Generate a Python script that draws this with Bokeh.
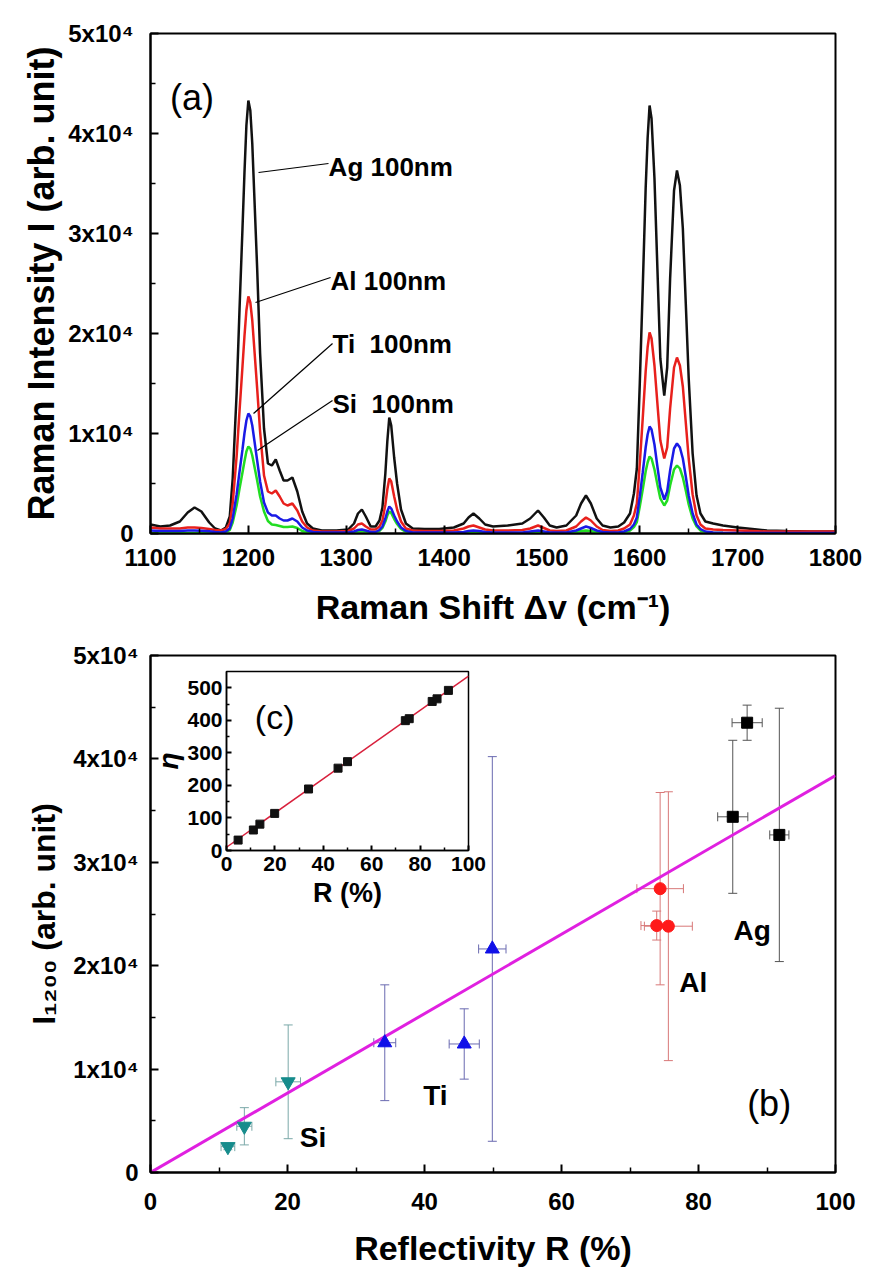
from bokeh.plotting import figure
from bokeh.models import Range1d, FixedTicker, Label, ColumnDataSource, Whisker, TeeHead, GridBox, Column
from bokeh.embed import file_html
from bokeh.resources import INLINE

FONT = "Liberation Sans"

# ---------------- (a) Raman spectra ----------------
shift = [1100, 1110, 1120, 1130, 1138, 1145, 1152, 1160, 1166, 1172,
         1177, 1181, 1184, 1188, 1191, 1194, 1196, 1198, 1200, 1202,
         1204, 1206, 1209, 1212, 1216, 1220, 1224, 1228, 1232, 1236,
         1240, 1245, 1250, 1255, 1260, 1266, 1275, 1290, 1302, 1308,
         1312, 1316, 1320, 1325, 1330, 1334, 1337, 1340, 1342, 1344,
         1346, 1349, 1352, 1356, 1361, 1368, 1380, 1395, 1410, 1420,
         1425, 1430, 1436, 1442, 1450, 1465, 1480, 1488, 1496, 1502,
         1508, 1515, 1525, 1535, 1540, 1545, 1550, 1556, 1562, 1570,
         1578, 1584, 1590, 1594, 1597, 1600, 1603, 1606, 1608, 1610,
         1612, 1615, 1618, 1621, 1625, 1628, 1631, 1635, 1638, 1641,
         1644, 1647, 1650, 1654, 1658, 1662, 1667, 1675, 1685, 1700,
         1715, 1730, 1750, 1775, 1800]

ag_100nm = [900, 700, 800, 1200, 2100, 2600, 2200, 1100, 500, 300,
            600, 1700, 5500, 14000, 22500, 30500, 36000, 40800, 43300, 42300,
            39000, 34000, 26500, 18000, 10500, 7000, 6800, 7400, 6300, 5300,
            5300, 5600, 4200, 2200, 1000, 500, 300, 300, 400, 1000,
            2000, 2400, 1700, 700, 700, 1300, 2600, 6000, 9200, 11600,
            10800, 7600, 5000, 2400, 1000, 500, 450, 450, 600, 1000,
            1600, 2000, 1500, 900, 700, 800, 1000, 1500, 2300, 1600,
            800, 600, 800, 1800, 3000, 3800, 3000, 1500, 800, 600,
            700, 1100, 2000, 4000, 6500, 15000, 24500, 34500, 39500, 42800,
            41500, 35500, 26500, 17500, 13800, 16600, 25500, 34300, 36300, 34800,
            30500, 23000, 15500, 8000, 3800, 2000, 1200, 1000, 800, 600,
            450, 300, 250, 200, 200]

al_100nm = [600, 500, 500, 500, 600, 600, 550, 450, 350, 300,
            450, 1000, 3000, 7700, 12300, 16700, 19700, 22300, 23700, 23100,
            21300, 18600, 14500, 10200, 5800, 4200, 4000, 4300, 3700, 3000,
            2800, 3000, 2300, 1200, 600, 300, 200, 200, 250, 500,
            900, 1000, 700, 400, 400, 700, 1300, 2900, 4400, 5500,
            5200, 3700, 2400, 1200, 500, 300, 250, 250, 300, 500,
            700, 800, 600, 400, 300, 300, 350, 500, 800, 550,
            300, 250, 300, 700, 1200, 1600, 1300, 700, 350, 250,
            300, 500, 900, 1800, 3000, 7000, 11500, 16200, 18600, 20100,
            19500, 16800, 13000, 9300, 7500, 8600, 12500, 16600, 17600, 16800,
            14700, 11100, 7500, 3900, 1800, 900, 500, 400, 350, 300,
            250, 200, 200, 200, 200]

ti_100nm = [300, 250, 250, 250, 300, 300, 280, 220, 150, 100,
            200, 500, 1500, 3900, 6200, 8400, 10000, 11300, 12000, 11700,
            10800, 9400, 7300, 5200, 3100, 2100, 1800, 1800, 1500, 1300,
            1300, 1500, 1200, 600, 300, 150, 100, 100, 100, 200,
            350, 400, 300, 150, 150, 350, 700, 1500, 2200, 2700,
            2500, 1800, 1200, 600, 250, 100, 100, 100, 100, 150,
            250, 300, 250, 150, 100, 100, 100, 200, 300, 200,
            100, 100, 100, 300, 500, 700, 550, 300, 150, 100,
            100, 200, 450, 900, 1600, 3700, 6100, 8600, 9900, 10700,
            10400, 8900, 6700, 4600, 3400, 4200, 6300, 8500, 9000, 8600,
            7500, 5700, 3800, 2000, 900, 450, 200, 100, 80, 60,
            50, 50, 50, 50, 50]

si_100nm = [50, 50, 50, 50, 60, 60, 50, 50, 40, 40,
            100, 350, 1100, 2800, 4500, 6100, 7200, 8200, 8700, 8500,
            7800, 6800, 5300, 3700, 2200, 1250, 900, 850, 750, 650,
            650, 700, 550, 250, 100, 50, 30, 30, 30, 100,
            200, 250, 180, 80, 80, 250, 550, 1200, 1800, 2200,
            2050, 1450, 950, 450, 150, 50, 30, 30, 30, 60,
            100, 120, 90, 50, 30, 30, 30, 80, 130, 80,
            40, 30, 40, 150, 250, 300, 250, 130, 50, 30,
            40, 120, 300, 650, 1150, 2700, 4400, 6200, 7100, 7700,
            7500, 6400, 4900, 3500, 2800, 3300, 4800, 6400, 6800, 6500,
            5600, 4300, 2900, 1500, 700, 300, 120, 60, 40, 30,
            30, 30, 30, 30, 30]

x_ticks_a = [1100, 1200, 1300, 1400, 1500, 1600, 1700, 1800]
y_ticks = [0, 10000, 20000, 30000, 40000, 50000]
y_tick_labels = ["0", "1x10⁴", "2x10⁴", "3x10⁴", "4x10⁴", "5x10⁴"]

# ---------------- (b) I1200 vs reflectivity ----------------
si_R = [11.3, 13.7, 20.1]
si_I = [2500, 4470, 8770]
si_Rerr = [1.0, 1.1, 1.8]
si_Ierr = [300, 1800, 5500]

ti_R = [34.2, 45.8, 49.9]
ti_I = [12550, 12430, 21620]
ti_Rerr = [1.6, 2.2, 2.0]
ti_Ierr = [5600, 3400, 18600]

al_R = [74.4, 73.9, 75.6]
al_I = [27450, 23880, 23820]
al_Rerr = [3.4, 2.3, 3.5]
al_Ierr = [9300, 1400, 13000]

ag_R = [87.1, 85.0, 91.8]
ag_I = [43500, 34400, 32650]
ag_Rerr = [2.2, 2.2, 1.4]
ag_Ierr = [1700, 7400, 12250]

fit_R = [0, 100]
fit_I = [0, 38400]

x_ticks_b = [0, 20, 40, 60, 80, 100]

# ---------------- (c) inset eta vs R ----------------
inset_R = [4.8, 11.1, 13.8, 19.9, 33.9, 46.1, 50.0, 73.9, 75.5, 85.0, 87.0, 91.7]
inset_eta = [32, 63, 81, 114, 189, 253, 273, 399, 405, 458, 466, 492]
inset_fit_R = [0, 100]
inset_fit_eta = [10, 536]


def style_axes(p, tick_size, maj_len=8, min_len=5):
    for ax in (p.xaxis[0], p.yaxis[0]):
        ax.axis_line_width = 2
        ax.axis_line_color = "black"
        ax.major_tick_line_width = 2
        ax.minor_tick_line_width = 1.5
        ax.major_tick_in = maj_len
        ax.major_tick_out = 0
        ax.minor_tick_in = min_len
        ax.minor_tick_out = 0
        ax.major_label_text_font = FONT
        ax.major_label_text_font_style = "bold"
        ax.major_label_text_font_size = tick_size
        ax.major_label_text_color = "black"
        ax.axis_label_text_font = FONT
        ax.axis_label_text_font_style = "bold"
        ax.axis_label_text_color = "black"
    p.grid.visible = False
    p.outline_line_color = "black"
    p.outline_line_width = 2
    p.outline_line_alpha = 1


# ======== panel (a) ========
p1 = figure(width=864, height=640, x_range=Range1d(1100, 1800), y_range=Range1d(0, 50000),
            output_backend="svg", toolbar_location=None,
            min_border_left=150, min_border_right=29, min_border_top=33, min_border_bottom=107)
style_axes(p1, "24px")
p1.xaxis.ticker = FixedTicker(ticks=x_ticks_a, minor_ticks=[1150, 1250, 1350, 1450, 1550, 1650, 1750])
p1.yaxis.ticker = FixedTicker(ticks=y_ticks, minor_ticks=[5000, 15000, 25000, 35000, 45000])
p1.yaxis.major_label_overrides = dict(zip(y_ticks, y_tick_labels))
p1.xaxis.major_label_standoff = 15
p1.yaxis.major_label_standoff = 17
p1.xaxis.axis_label = "Raman Shift Δv (cm⁻¹)"
p1.xaxis.axis_label_text_font_size = "34px"
p1.xaxis.axis_label_standoff = 19
p1.yaxis.axis_label = "Raman Intensity I (arb. unit)"
p1.yaxis.axis_label_text_font_size = "36px"
p1.yaxis.axis_label_standoff = 3

p1.line(shift, ag_100nm, line_color="#111111", line_width=2.5)
p1.line(shift, al_100nm, line_color="#e8201c", line_width=2.5)
p1.line(shift, si_100nm, line_color="#22dd22", line_width=2.5)
p1.line(shift, ti_100nm, line_color="#1a1ae6", line_width=2.5)

# leader lines and labels
p1.segment(x0=[1210.4, 1207.3, 1205.3, 1209.3], y0=[36100, 23100, 12000, 8300],
           x1=[1281.9, 1284.0, 1286.0, 1286.0], y1=[37000, 25600, 19000, 13300],
           line_color="black", line_width=1.2)
for txt, lx, ly in [("Ag 100nm", 1282, 36700), ("Al 100nm", 1284, 25300),
                    ("Ti\u00a0 100nm", 1286, 19000), ("Si\u00a0 100nm", 1286, 13000)]:
    p1.add_layout(Label(x=lx, y=ly, text=txt, text_font=FONT, text_font_style="bold",
                        text_font_size="26px", text_baseline="middle", text_align="left",
                        text_color="black"))
p1.add_layout(Label(x=1120, y=43600, text="(a)", text_font=FONT, text_font_size="36px",
                    text_baseline="middle", text_align="left", text_color="black"))

# ======== panel (b) ========
p2 = figure(width=864, height=630, x_range=Range1d(0, 100), y_range=Range1d(0, 50000),
            output_backend="svg", toolbar_location=None,
            min_border_left=150, min_border_right=19, min_border_top=15, min_border_bottom=98)
style_axes(p2, "24px")
p2.xaxis.ticker = FixedTicker(ticks=x_ticks_b, minor_ticks=[10, 30, 50, 70, 90])
p2.yaxis.ticker = FixedTicker(ticks=y_ticks, minor_ticks=[5000, 15000, 25000, 35000, 45000])
p2.yaxis.major_label_overrides = dict(zip(y_ticks, y_tick_labels))
p2.xaxis.major_label_standoff = 20
p2.yaxis.major_label_standoff = 12
p2.xaxis.axis_label = "Reflectivity R (%)"
p2.xaxis.axis_label_text_font_size = "34px"
p2.xaxis.axis_label_standoff = 16
p2.yaxis.axis_label = "I₁₂₀₀ (arb. unit)"
p2.yaxis.axis_label_text_font_size = "32px"
p2.yaxis.axis_label_standoff = 8


def add_series(p, R, I, Rerr, Ierr, err_color):
    src = ColumnDataSource(dict(
        R=R, I=I,
        Ilo=[i - e for i, e in zip(I, Ierr)], Ihi=[i + e for i, e in zip(I, Ierr)],
        Rlo=[r - e for r, e in zip(R, Rerr)], Rhi=[r + e for r, e in zip(R, Rerr)]))
    p.add_layout(Whisker(source=src, base="R", lower="Ilo", upper="Ihi", dimension="height",
                         line_color=err_color, line_width=1,
                         upper_head=TeeHead(size=9, line_color=err_color, line_width=1),
                         lower_head=TeeHead(size=9, line_color=err_color, line_width=1)))
    p.add_layout(Whisker(source=src, base="I", lower="Rlo", upper="Rhi", dimension="width",
                         line_color=err_color, line_width=1,
                         upper_head=TeeHead(size=9, line_color=err_color, line_width=1),
                         lower_head=TeeHead(size=9, line_color=err_color, line_width=1)))
    return src


src_si = add_series(p2, si_R, si_I, si_Rerr, si_Ierr, "#7aa8a8")
src_ti = add_series(p2, ti_R, ti_I, ti_Rerr, ti_Ierr, "#6a6ab0")
src_al = add_series(p2, al_R, al_I, al_Rerr, al_Ierr, "#d87878")
src_ag = add_series(p2, ag_R, ag_I, ag_Rerr, ag_Ierr, "#555555")

p2.line(fit_R, fit_I, line_color="#e020e0", line_width=3)

p2.scatter("R", "I", source=src_si, marker="inverted_triangle", size=14, fill_color="#168c8c", line_color="#168c8c")
p2.scatter("R", "I", source=src_ti, marker="triangle", size=14, fill_color="#1010e8", line_color="#1010e8")
p2.scatter("R", "I", source=src_al, marker="circle", size=12, fill_color="#ff1a1a", line_color="#ff1a1a")
p2.scatter("R", "I", source=src_ag, marker="square", size=11, fill_color="#000000", line_color="#000000")

for txt, lx, ly in [("Si", 21.8, 3350), ("Ti", 39.8, 7400), ("Al", 77.2, 18400), ("Ag", 85.1, 23400)]:
    p2.add_layout(Label(x=lx, y=ly, text=txt, text_font=FONT, text_font_style="bold",
                        text_font_size="28px", text_baseline="middle", text_align="left",
                        text_color="black"))
p2.add_layout(Label(x=87.1, y=6700, text="(b)", text_font=FONT, text_font_size="36px",
                    text_baseline="middle", text_align="left", text_color="black"))

# ======== inset (c) ========
p3 = figure(width=338, height=252, x_range=Range1d(0, 100), y_range=Range1d(0, 550),
            output_backend="svg", toolbar_location=None,
            min_border_left=72, min_border_right=20, min_border_top=5, min_border_bottom=68,
            background_fill_color="white", border_fill_alpha=0)
style_axes(p3, "21px", maj_len=5, min_len=3)
p3.outline_line_width = 1.5
p3.xaxis.axis_line_width = 1.5
p3.yaxis.axis_line_width = 1.5
p3.xaxis.ticker = FixedTicker(ticks=[0, 20, 40, 60, 80, 100], minor_ticks=[10, 30, 50, 70, 90])
p3.yaxis.ticker = FixedTicker(ticks=[0, 100, 200, 300, 400, 500], minor_ticks=[50, 150, 250, 350, 450])
p3.xaxis.major_label_standoff = 6
p3.yaxis.major_label_standoff = 4
p3.xaxis.axis_label = "R (%)"
p3.xaxis.axis_label_text_font_size = "27px"
p3.xaxis.axis_label_standoff = 4
p3.yaxis.axis_label = "η"
p3.yaxis.axis_label_text_font_size = "28px"
p3.yaxis.axis_label_text_font_style = "bold italic"
p3.yaxis.axis_label_standoff = 0

p3.line(inset_fit_R, inset_fit_eta, line_color="#d8203c", line_width=1.5)
p3.scatter(inset_R, inset_eta, marker="square", size=8, fill_color="#111111", line_color="#111111")
p3.add_layout(Label(x=11.7, y=409, text="(c)", text_font=FONT, text_font_size="34px",
                    text_baseline="middle", text_align="left", text_color="black"))

inset_box = Column(children=[p3], margin=(26, 0, 0, 150))

layout = GridBox(children=[(p1, 0, 0), (p2, 1, 0), (inset_box, 1, 0)])

open("out.html", "w").write(file_html(layout, INLINE))
